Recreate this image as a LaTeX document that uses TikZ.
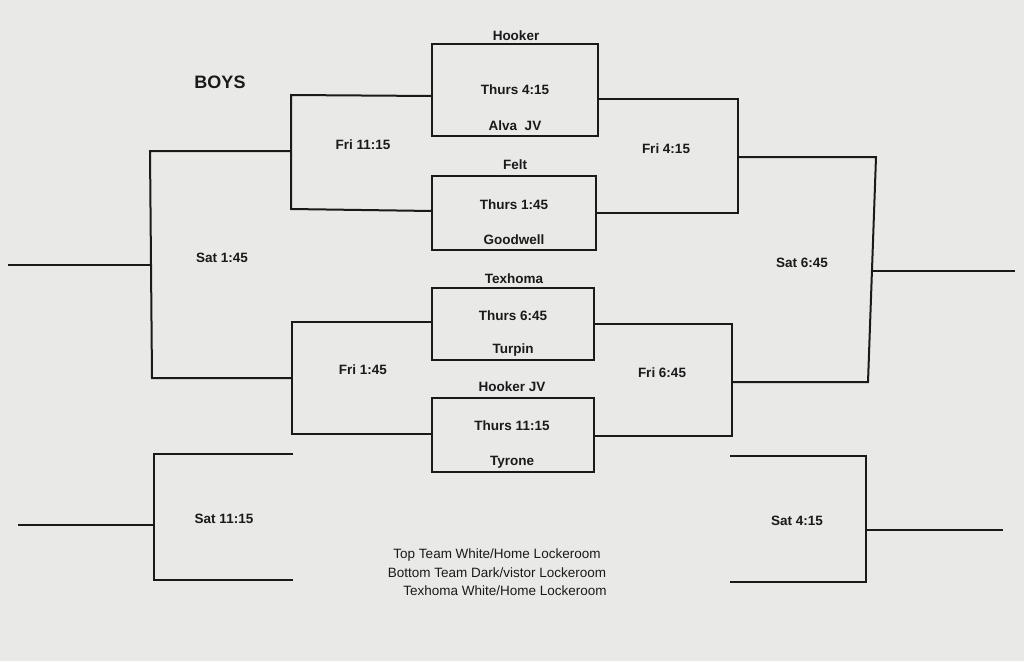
\documentclass[tikz,border=0pt]{standalone}
\usepackage{fontspec}
\setmainfont{Liberation Sans}
\definecolor{paper}{HTML}{E9E9E8}
\definecolor{ink}{HTML}{1A1A1A}
\begin{document}
\begin{tikzpicture}[x=1pt,y=-1pt,
    line/.style={line width=2pt,draw=ink},
    lbl/.style={text=ink,font=\bfseries\fontsize{13.5}{16}\selectfont},
    note/.style={text=ink,font=\fontsize{13.5}{16}\selectfont,align=center}]
    \fill[paper] (0,0) rectangle (1024,661);
    \useasboundingbox (0,0) rectangle (1024,661);

    % thursday games
    \draw[line] (432,44) rectangle (598,136);
    \draw[line] (432,176) rectangle (596,250);
    \draw[line] (432,288) rectangle (594,360);
    \draw[line] (432,398) rectangle (594,472);

    \node[lbl] (hooker) at (516,36) {Hooker};
    \node[lbl] (thA) at (515,90) {Thurs 4:15};
    \node[lbl] (alva) at (515,126) {Alva\ \ JV};
    \node[lbl] (felt) at (515,165) {Felt};
    \node[lbl] (thB) at (514,205) {Thurs 1:45};
    \node[lbl] (goodwell) at (514,240) {Goodwell};
    \node[lbl] (texhoma) at (514,279) {Texhoma};
    \node[lbl] (thC) at (513,316) {Thurs 6:45};
    \node[lbl] (turpin) at (513,350) {Turpin};
    \node[lbl] (hookerjv) at (512,387) {Hooker JV};
    \node[lbl] (thD) at (512,426) {Thurs 11:15};
    \node[lbl] (tyrone) at (512,462) {Tyrone};

    % friday games
    \draw[line] (432,96) -- (291,95) -- (291,209) -- (432,211);
    \draw[line] (432,322) -- (292,322) -- (292,434) -- (432,434);
    \draw[line] (598,99) -- (738,99) -- (738,213) -- (596,213);
    \draw[line] (594,324) -- (732,324) -- (732,436) -- (594,436);
    \node[lbl] (friA) at (363,145) {Fri 11:15};
    \node[lbl] (friB) at (363,370) {Fri 1:45};
    \node[lbl] (friC) at (666,149) {Fri 4:15};
    \node[lbl] (friD) at (662,373) {Fri 6:45};

    % saturday games
    \draw[line] (291,151) -- (150,151) -- (152,378) -- (292,378);
    \draw[line] (8,265) -- (150,265);
    \draw[line] (738,157) -- (876,157) -- (868,382) -- (732,382);
    \draw[line] (872,271) -- (1015,271);
    \draw[line] (293,454) -- (154,454) -- (154,580) -- (293,580);
    \draw[line] (18,525) -- (154,525);
    \draw[line] (730,456) -- (866,456) -- (866,582) -- (730,582);
    \draw[line] (866,530) -- (1003,530);
    \node[lbl] (satA) at (222,258) {Sat 1:45};
    \node[lbl] (satB) at (802,263) {Sat 6:45};
    \node[lbl] (satC) at (224,519) {Sat 11:15};
    \node[lbl] (satD) at (797,521) {Sat 4:15};

    \node[text=ink,font=\bfseries\fontsize{18}{21}\selectfont] (boys) at (220,82) {BOYS};
    \node[note] (noteA) at (497,555) {Top Team White/Home Lockeroom};
    \node[note] (noteB) at (497,573) {Bottom Team Dark/vistor Lockeroom};
    \node[note] (noteC) at (505,591) {Texhoma White/Home Lockeroom};
\end{tikzpicture}
\end{document}
